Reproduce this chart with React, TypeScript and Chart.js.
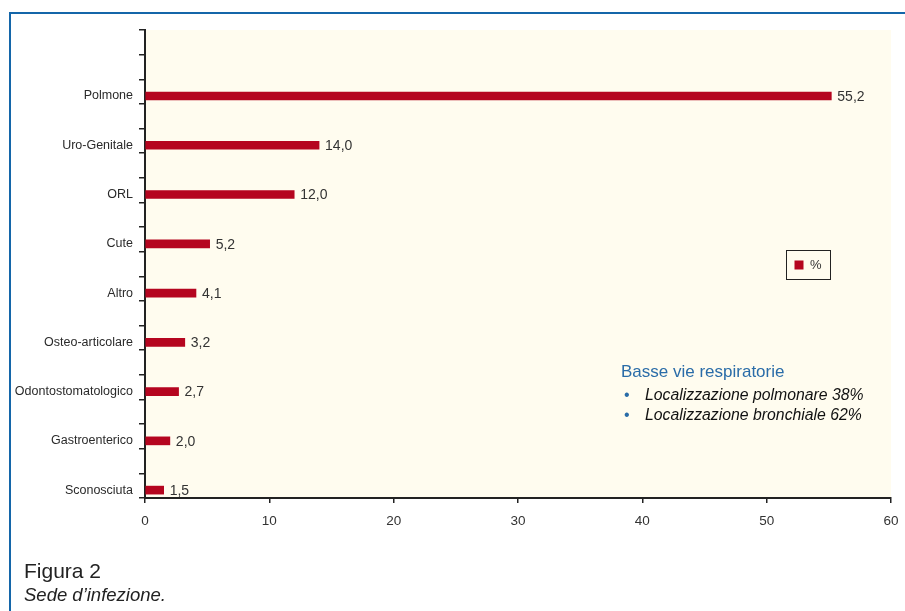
import React, { useEffect, useRef } from "react";
import { Chart, registerables } from "chart.js";

Chart.register(...registerables);

const CATEGORIES = [
  "Polmone",
  "Uro-Genitale",
  "ORL",
  "Cute",
  "Altro",
  "Osteo-articolare",
  "Odontostomatologico",
  "Gastroenterico",
  "Sconosciuta",
];
const VALUES = [55.2, 14.0, 12.0, 5.2, 4.1, 3.2, 2.7, 2.0, 1.5];
const SERIES_LABEL = "%";
const X_MIN = 0;
const X_MAX = 60;
const X_STEP = 10;
const NOTE_TITLE = "Basse vie respiratorie";
const NOTE_ITEMS = ["Localizzazione polmonare 38%", "Localizzazione bronchiale 62%"];
const CAPTION_TITLE = "Figura 2";
const CAPTION_TEXT = "Sede d\u2019infezione.";

const BAR_COLOR = "#b5051f";
const FRAME_COLOR = "#1466a9";
const NOTE_BLUE = "#2a6ca8";
const Y_SPAN = 9.5;
const Y_OFFSET = 1.34;
const FONT = "'Liberation Sans', Arial, sans-serif";

const fmt = (v: number) => v.toFixed(1).replace(".", ",");

const bgPlugin = {
  id: "bg",
  beforeDraw(chart: any) {
    const { ctx, chartArea } = chart;
    ctx.save();
    ctx.fillStyle = "#fffcef";
    ctx.fillRect(chartArea.left, chartArea.top, chartArea.right - chartArea.left, chartArea.bottom - chartArea.top);
    ctx.restore();
  },
};

const overlayPlugin = {
  id: "overlay",
  afterDatasetsDraw(chart: any) {
    const { ctx } = chart;
    const meta = chart.getDatasetMeta(0);
    ctx.save();
    // value labels
    ctx.font = `14px ${FONT}`;
    ctx.fillStyle = "#333";
    ctx.textAlign = "left";
    ctx.textBaseline = "middle";
    meta.data.forEach((bar: any, i: number) => {
      ctx.fillText(fmt(VALUES[i]), bar.x + 6, bar.y + 1);
    });

    // legend box
    const lx = 786, ly = 250.5, lw = 44, lh = 29;
    ctx.strokeStyle = "#222";
    ctx.lineWidth = 1;
    ctx.strokeRect(lx + 0.5, ly, lw, lh);
    ctx.fillStyle = BAR_COLOR;
    ctx.fillRect(794.5, 260.5, 9, 9);
    ctx.fillStyle = "#333";
    ctx.font = `13px ${FONT}`;
    ctx.fillText(chart.data.datasets[0].label, 810, 265.5);

    // note
    const nx = 621;
    ctx.textBaseline = "alphabetic";
    ctx.fillStyle = NOTE_BLUE;
    ctx.font = `17px ${FONT}`;
    ctx.fillText(NOTE_TITLE, nx, 377);
    NOTE_ITEMS.forEach((t, i) => {
      const y = 399.5 + i * 20.5;
      ctx.fillStyle = NOTE_BLUE;
      ctx.font = `16px ${FONT}`;
      ctx.fillText("\u2022", nx + 3, y);
      ctx.fillStyle = "#111";
      ctx.font = `italic 15.8px ${FONT}`;
      ctx.fillText(t, nx + 24, y);
    });
    ctx.restore();
  },
};

export default function App() {
  const canvasRef = useRef<HTMLCanvasElement | null>(null);

  useEffect(() => {
    if (!canvasRef.current) return;
    const chart = new Chart(canvasRef.current, {
      type: "bar",
      data: {
        datasets: [
          {
            label: SERIES_LABEL,
            data: VALUES.map((v, i) => ({ x: v, y: Y_OFFSET + i })),
            backgroundColor: BAR_COLOR,
            borderWidth: 0,
            barThickness: 8,
            xAxisID: "x",
            yAxisID: "y",
          },
        ],
      },
      options: {
        indexAxis: "y",
        animation: false,
        responsive: false,
        maintainAspectRatio: false,
        layout: { padding: { left: 0, right: 14, top: 30, bottom: 83 } },
        plugins: { legend: { display: false }, tooltip: { enabled: false } },
        scales: {
          x: {
            type: "linear",
            min: X_MIN,
            max: X_MAX,
            offset: false,
            ticks: {
              stepSize: X_STEP,
              color: "#333",
              font: { size: 13.5, family: FONT },
              padding: 10,
              maxRotation: 0,
            },
            grid: { drawOnChartArea: false, tickLength: 5, color: "#222", lineWidth: 1.5, offset: false },
            border: { color: "#222", width: 2 },
            afterFit: (s: any) => {
              s.height = 30;
              s.paddingRight = 0;
              s.paddingLeft = 0;
            },
          },
          y: {
            type: "linear",
            position: "left",
            reverse: true,
            min: 0,
            max: Y_SPAN,
            offset: false,
            weight: 0,
            ticks: { display: false, stepSize: 0.5, autoSkip: false },
            grid: { drawOnChartArea: false, tickLength: 6, color: "#222", lineWidth: 1.5, offset: false },
            border: { color: "#222", width: 2 },
            afterFit: (s: any) => {
              s.width = 6;
              s.paddingTop = 0;
              s.paddingBottom = 0;
            },
          },
          yl: {
            type: "linear",
            position: "left",
            reverse: true,
            min: 0,
            max: Y_SPAN,
            offset: false,
            weight: 1,
            afterBuildTicks: (s: any) => {
              s.ticks = CATEGORIES.map((_, i) => ({ value: Y_OFFSET + i }));
            },
            ticks: {
              autoSkip: false,
              color: "#2a2a2a",
              padding: 6,
              font: { size: 12.5, family: FONT },
              callback: (_v: any, i: number) => CATEGORIES[i],
            },
            grid: { display: false, drawTicks: false, offset: false },
            border: { display: false },
            afterFit: (s: any) => {
              s.width = 139;
              s.paddingTop = 0;
              s.paddingBottom = 0;
            },
          },
        },
      },
      plugins: [bgPlugin, overlayPlugin],
    } as any);
    return () => chart.destroy();
  }, []);

  return (
    <div style={{ position: "absolute", left: 0, top: 0, width: 905, height: 611, overflow: "hidden", background: "#fff" }}>
      <canvas ref={canvasRef} width={905} height={611} style={{ position: "absolute", left: 0, top: 0 }} />
      <div
        style={{
          position: "absolute",
          left: 9,
          top: 12,
          width: 905,
          height: 611,
          borderTop: `2px solid ${FRAME_COLOR}`,
          borderLeft: `2px solid ${FRAME_COLOR}`,
          boxSizing: "border-box",
        }}
      />
      <div
        style={{
          position: "absolute",
          left: 24,
          top: 560,
          fontFamily: FONT,
          fontSize: 21,
          lineHeight: 1,
          color: "#222",
          whiteSpace: "nowrap",
        }}
      >
        {CAPTION_TITLE}
      </div>
      <div
        style={{
          position: "absolute",
          left: 24,
          top: 586,
          fontFamily: FONT,
          fontSize: 18.5,
          fontStyle: "italic",
          lineHeight: 1,
          color: "#222",
          whiteSpace: "nowrap",
        }}
      >
        {CAPTION_TEXT}
      </div>
    </div>
  );
}
